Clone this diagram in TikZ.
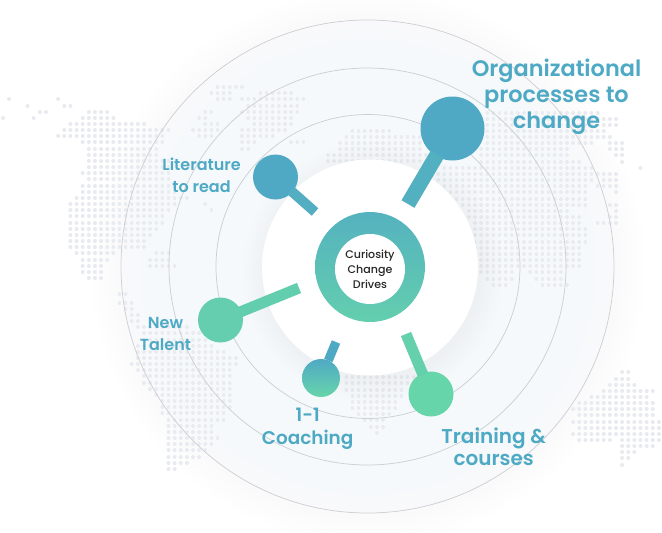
\documentclass[tikz,border=0pt]{standalone}
\usepackage{fontspec}
\newfontfamily\labelfont{Poppins SemiBold}
\newfontfamily\hubfont{Poppins Medium}
\usetikzlibrary{positioning}
\definecolor{blueball}{HTML}{50A9C4}
\definecolor{greenball}{HTML}{67D5AA}
\definecolor{labelblue}{HTML}{4DA9C4}
\definecolor{ringline}{HTML}{CCD0D3}
\definecolor{mapdot}{HTML}{E8EAEF}
\definecolor{haze}{HTML}{F6F9FB}

\begin{document}
\begin{tikzpicture}[x=0.75pt,y=-0.75pt]
  \tikzset{BallStyle/.style = {shape        = circle,
                               inner sep    = 0pt,
                               outer sep    = 0pt,
                               minimum size = #1*0.75pt},
           stem/.style = {line width=#1*0.75pt, shorten >=-1.5pt},
           ringline/.style = {draw=ringline, line width=0.55pt},
           topic/.style 2 args = {text=labelblue, align=center, inner sep=0pt,
                                  font=\labelfont\fontsize{#1}{#2}\selectfont}}
	\useasboundingbox (0,0) rectangle (662,533);
	\fill[white] (0,0) rectangle (662,533);
	%%% MAP %%%
	\foreach \y/\xa/\xb in {
		99/9/9, 99/58/58, 106/28/28, 106/65/71, 112/40/46, 112/89/108, 118/3/3, 118/34/34, 118/80/111,
		124/71/141, 130/65/171, 130/191/215, 136/60/164, 136/197/212, 142/83/165, 149/89/157, 155/88/157,
		161/91/170, 167/91/170, 173/85/170, 179/91/170, 186/81/176, 192/81/176, 198/76/187,
		204/70/175, 204/204/204, 210/70/170, 210/210/210, 216/70/163, 223/70/163, 229/70/157, 235/70/151,
		241/70/145, 247/70/145, 253/76/114, 253/155/167, 260/81/108, 260/148/167, 266/81/100, 266/148/175,
		272/81/100, 278/87/100,
		%
		87/215/242, 93/210/229, 93/258/292, 99/216/229, 99/240/303, 106/246/297, 112/203/210, 112/240/297,
		118/197/204, 118/246/292, 124/207/217, 124/252/292, 130/240/285, 136/240/273, 142/240/255, 142/290/303, 149/240/248,
		%
		294/120/127, 303/120/133, 309/125/133, 315/130/137, 321/130/135, 327/137/188, 333/142/200, 340/142/205,
		346/137/213, 352/137/225, 358/137/237, 364/130/237, 370/137/230, 376/143/230, 383/143/230, 389/149/230,
		395/155/230, 401/162/230, 407/162/230, 413/162/225, 420/167/225, 426/167/213, 432/167/213, 438/167/218,
		444/167/212, 450/167/205, 457/167/200, 463/167/188, 469/167/175,
		%
		131/353/392, 137/347/420, 143/340/420, 149/340/420, 155/328/430, 161/328/430,
		113/487/600, 119/485/618, 125/485/613, 131/485/605, 137/485/612, 143/487/590, 143/607/620,
		149/480/570, 149/612/620, 155/480/570, 155/618/625, 162/480/577, 162/625/625, 168/443/593, 168/643/643,
		174/437/593, 174/600/613, 180/437/593, 180/605/618, 186/443/588, 186/600/613, 192/450/588, 192/613/613,
		199/457/583, 205/460/588, 205/607/618, 211/467/570, 211/613/613, 217/467/577, 217/607/618,
		223/473/577, 223/600/613, 229/473/583, 235/473/583, 242/473/588, 248/473/582, 254/480/582,
		260/480/582, 266/480/582, 272/480/510, 272/532/558, 279/487/510, 279/538/558, 285/493/503, 285/545/570,
		%
		377/347/413, 383/347/413, 390/347/400, 396/352/400, 402/353/398, 408/353/398, 414/359/390,
		420/365/385, 427/372/380, 433/377/377,
		%
		372/622/628, 379/615/628, 385/608/635, 391/602/653, 397/590/647, 403/578/653, 409/572/653, 415/578/653,
		422/572/658, 428/578/658, 434/572/658, 440/578/610, 440/620/658, 446/620/653, 452/622/635, 458/622/628, 465/622/622
	}{
		\pgfmathtruncatemacro{\ka}{round((\xa-3)/6.13)}
		\pgfmathtruncatemacro{\kb}{round((\xb-3)/6.13)}
		\foreach \k in {\ka,...,\kb}{
			\fill[mapdot] ({3+6.13*\k},\y) circle (1.5pt);
		}
	}
	%%% HAZE AROUND THE RINGS %%%
	\foreach \r in {276,270,...,108}{
		\fill[haze, opacity=0.07] (368,267) circle ({\r*0.75pt});
	}
	\foreach \r in {130,127,...,109}{
		\fill[black!45, opacity=0.008] (373,272) circle ({\r*0.75pt});
	}
	%%% RINGS %%%
	\node[BallStyle=493, ringline] (ringc) at (367.5,266.5){};
	\node[BallStyle=397, ringline] (ringb) at (367.5,266.5){};
	\node[BallStyle=304, ringline] (ringa) at (368,266.5){};
	\node[BallStyle=216, fill=white] (disc) at (370,267.5){};
	%%% CENTRE %%%
	\node[BallStyle=110, top color=blueball!80!greenball, bottom color=greenball!85!blueball] (donut) at (370,267){};
	\node[BallStyle=70, fill=white, align=center, text=black!85, font=\hubfont\fontsize{8.3}{11.3}\selectfont] (hub) at (370,269) {Curiosity\\Change\\Drives};
	%%% TOPICS %%%
	\node[BallStyle=64, fill=blueball] (big) at (452.5,128.5){};
	\node[BallStyle=45, fill=blueball] (lit) at (275.5,177){};
	\node[BallStyle=45, fill=greenball!85!blueball] (new) at (220.5,320){};
	\node[BallStyle=38, top color=blueball, bottom color=greenball] (one) at (321,378){};
	\node[BallStyle=45, fill=greenball] (tra) at (431,394){};
	%%% STEMS %%%
	\coordinate (bigend) at (408,204);
	\coordinate (litend) at (315,212);
	\coordinate (newend) at (299,288);
	\coordinate (oneend) at (336,342);
	\coordinate (traend) at (406,334);
	\draw[stem=15, blueball!85!greenball] (bigend) -- (big);
	\draw[stem=10, blueball!88!greenball] (litend) -- (lit);
	\draw[stem=11, greenball!85!blueball] (newend) -- (new);
	\draw[stem=9, blueball, shorten >=0pt] (oneend) -- (one);
	\draw[stem=11, greenball!92!blueball] (traend) -- (tra);
	%%% LABELS %%%
	\node[topic={16.8}{19.5}, above=-29pt of big, xshift=78pt] (bigtext) {Organizational\\processes to\\change};
	\node[topic={12}{16.5}, left=9pt of lit, yshift=1pt] (littext) {Literature\\to read};
	\node[topic={12}{16.5}, left=5pt of new, yshift=-10.5pt] (newtext) {New\\Talent};
	\node[topic={13.8}{17}, below=8pt of one, xshift=-10pt] (onetext) {1-1\\Coaching};
	\node[topic={15}{17}, below=8pt of tra, xshift=47pt] (tratext) {Training \&\\courses};
\end{tikzpicture}
\end{document}
